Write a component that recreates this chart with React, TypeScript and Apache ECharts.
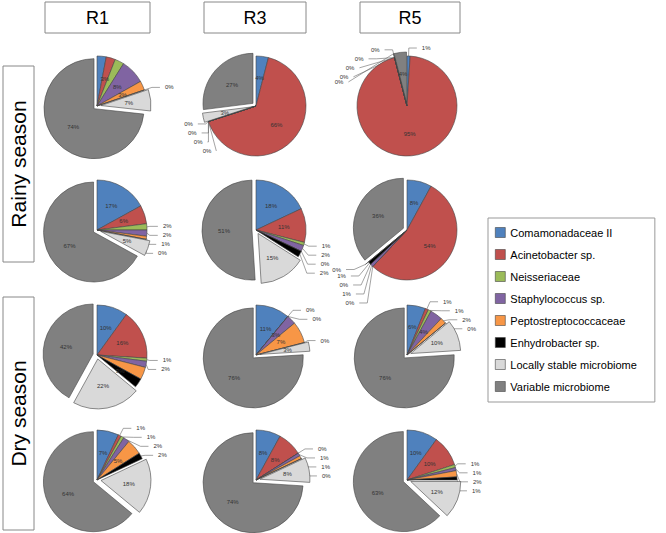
import React, { useEffect, useRef } from "react";
import * as echarts from "echarts";

const categories = [
  "Comamonadaceae II",
  "Acinetobacter sp.",
  "Neisseriaceae",
  "Staphylococcus sp.",
  "Peptostreptococcaceae",
  "Enhydrobacter sp.",
  "Locally stable microbiome",
  "Variable microbiome",
];
const colors = ["#4F81BD", "#C0504D", "#9BBB59", "#8064A2", "#F79646", "#000000", "#D9D9D9", "#808080"];

const columnLabels = ["R1", "R3", "R5"];
const rowLabels = ["Rainy season", "Dry season"];

// values (%) in category order, per pie
const rainyA_R1 = [3, 3, 3, 8, 3, 0, 7, 74];
const rainyA_R3 = [4, 66, 0, 0, 0, 0, 3, 27];
const rainyA_R5 = [1, 95, 0, 0, 0, 0, 0, 4];
const rainyB_R1 = [17, 6, 2, 2, 1, 0, 5, 67];
const rainyB_R3 = [18, 11, 1, 2, 0, 2, 15, 51];
const rainyB_R5 = [8, 54, 0, 1, 0, 1, 0, 36];
const dryA_R1 = [10, 16, 1, 2, 4, 3, 22, 42];
const dryA_R3 = [11, 0, 0, 3, 7, 0, 3, 76];
const dryA_R5 = [6, 1, 1, 4, 2, 0, 10, 76];
const dryB_R1 = [7, 1, 1, 2, 5, 2, 18, 64];
const dryB_R3 = [8, 8, 0, 1, 1, 0, 8, 74];
const dryB_R5 = [10, 10, 1, 1, 2, 1, 12, 63];

const pies = [
  [rainyA_R1, rainyA_R3, rainyA_R5],
  [rainyB_R1, rainyB_R3, rainyB_R5],
  [dryA_R1, dryA_R3, dryA_R5],
  [dryB_R1, dryB_R3, dryB_R5],
];

const colX = [97, 256, 407];
const rowY = [106, 230, 355, 480];
const R = 50;
const FONT = "'Liberation Sans', Arial, sans-serif";

export default function App() {
  const ref = useRef<HTMLDivElement>(null);
  useEffect(() => {
    if (!ref.current) return;
    const chart = echarts.init(ref.current, null, { renderer: "svg" });
    const series: any[] = [];
    pies.forEach((row, ri) => {
      row.forEach((vals, ci) => {
        series.push({
          type: "pie",
          center: [colX[ci], rowY[ri]],
          radius: [0, R],
          startAngle: 90,
          clockwise: true,
          selectedMode: "multiple",
          selectedOffset: 4,
          avoidLabelOverlap: true,
          emphasis: { disabled: true },
          select: { itemStyle: { borderColor: "#444", borderWidth: 0.6 } },
          itemStyle: { borderColor: "#444", borderWidth: 0.6 },
          label: {
            fontSize: 6,
            lineHeight: 7,
            color: "#333",
            fontFamily: FONT,
            formatter: (p: any) => p.value + "%",
          },
          labelLine: { length: 8, length2: 8, lineStyle: { color: "#666", width: 0.6 } },
          data: vals.map((v, k) => ({
            name: categories[k],
            value: v,
            selected: k >= 6,
            itemStyle: { color: colors[k] },
            label: v >= 3 ? { position: "inner" } : { position: "outside" },
            labelLine: { show: v < 3 },
          })),
        });
      });
    });

    const headerBoxes = [
      [45, 2, 105, 31],
      [204, 2, 102, 31],
      [360, 2, 100, 31],
    ];
    const graphic: any[] = [];
    headerBoxes.forEach((b, i) => {
      graphic.push({
        type: "rect",
        shape: { x: b[0], y: b[1], width: b[2], height: b[3] },
        style: { fill: "#fff", stroke: "#888", lineWidth: 1 },
      });
      graphic.push({
        type: "text",
        x: b[0] + b[2] / 2,
        y: b[1] + b[3] / 2,
        style: {
          text: columnLabels[i],
          fontSize: 18,
          fontFamily: FONT,
          fill: "#000",
          textAlign: "center",
          textVerticalAlign: "middle",
        },
      });
    });
    const rowBoxes = [
      [3, 66, 31, 196],
      [3, 297, 31, 233],
    ];
    rowBoxes.forEach((b, i) => {
      graphic.push({
        type: "rect",
        shape: { x: b[0], y: b[1], width: b[2], height: b[3] },
        style: { fill: "#fff", stroke: "#888", lineWidth: 1 },
      });
      graphic.push({
        type: "text",
        x: b[0] + b[2] / 2,
        y: b[1] + b[3] / 2,
        rotation: Math.PI / 2,
        style: {
          text: rowLabels[i],
          fontSize: 21,
          fontFamily: FONT,
          fill: "#000",
          textAlign: "center",
          textVerticalAlign: "middle",
        },
      });
    });

    chart.setOption({
      animation: false,
      backgroundColor: "#fff",
      legend: {
        orient: "vertical",
        left: 488,
        top: 218,
        data: categories,
        icon: "rect",
        itemWidth: 10,
        itemHeight: 10,
        itemGap: 11,
        padding: [9, 18, 10, 7],
        borderColor: "#999",
        borderWidth: 1,
        selectedMode: false,
        itemStyle: { borderColor: "#444", borderWidth: 0.6 },
        textStyle: { fontSize: 11, color: "#000", fontFamily: FONT },
      },
      graphic,
      series,
    });
    return () => chart.dispose();
  }, []);
  return <div ref={ref} style={{ position: "fixed", left: 0, top: 0, width: 666, height: 533 }} />;
}
